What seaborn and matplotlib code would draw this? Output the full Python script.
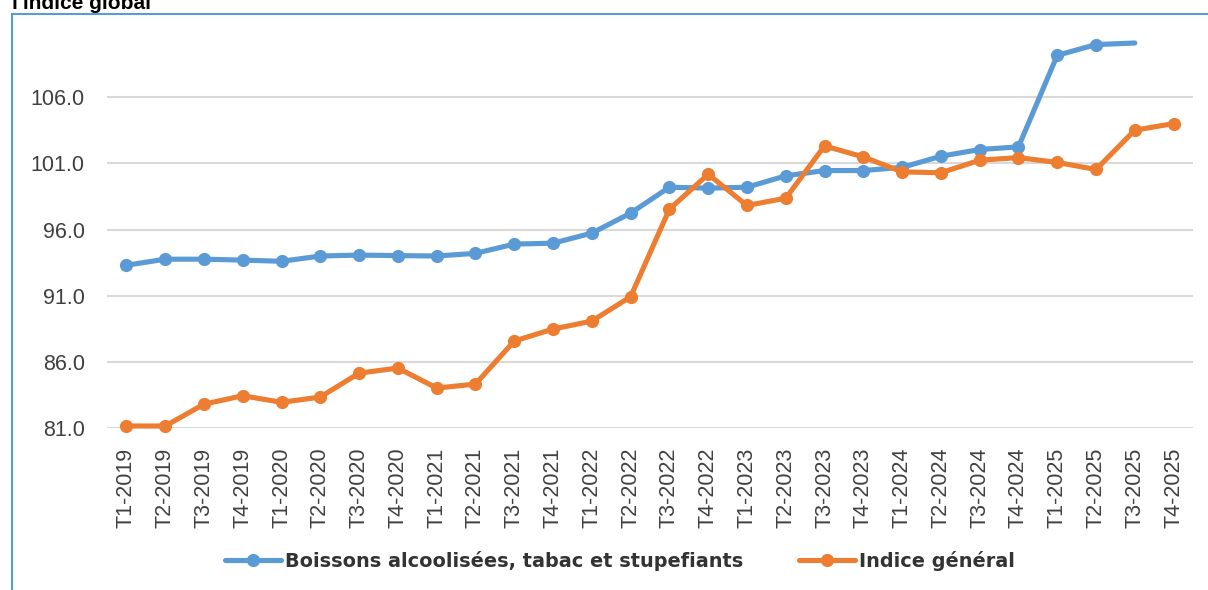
import numpy as np
import pandas as pd
import matplotlib
matplotlib.use("Agg")
import matplotlib.pyplot as plt
import seaborn as sns
from matplotlib.patches import Rectangle

periods = [f"T{q}-{y}" for y in range(2019, 2026) for q in range(1, 5)]

boissons = [93.3, 93.76, 93.76, 93.69, 93.6, 94.0, 94.07, 94.03, 94.0, 94.2,
            94.9, 94.97, 95.73, 97.24, 99.2, 99.13, 99.2, 100.06, 100.46, 100.46,
            100.7, 101.54, 102.05, 102.25, 109.17, 109.98, 110.1]
indice = [81.15, 81.15, 82.8, 83.44, 82.94, 83.34, 85.15, 85.53, 84.02, 84.32,
          87.57, 88.48, 89.08, 90.92, 97.54, 100.18, 97.82, 98.37, 102.32, 101.49,
          100.36, 100.29, 101.24, 101.44, 101.07, 100.54, 103.51, 104.01]

yticks = [81.0, 86.0, 91.0, 96.0, 101.0, 106.0]

label_b = "Boissons alcoolisées, tabac et stupefiants"
label_i = "Indice général"
blue = "#5B9BD5"
orange = "#ED7D31"

sns.set_theme(style="white")
plt.rcParams['font.family'] = ['Liberation Sans', 'DejaVu Sans']

fig = plt.figure(figsize=(12.08, 5.9), dpi=100)
ax = fig.add_axes([107/1208, 1-428/590, (1193-107)/1208, (428-43)/590])

df_b = pd.DataFrame({"x": np.arange(len(boissons)), "v": boissons})
df_i = pd.DataFrame({"x": np.arange(len(indice)), "v": indice})

sns.lineplot(data=df_b, x="x", y="v", ax=ax, color=blue, lw=3.7, marker="o",
             markersize=9.5, markeredgewidth=0, markevery=slice(0, len(boissons)-1),
             label=label_b, clip_on=False, sort=False)
sns.lineplot(data=df_i, x="x", y="v", ax=ax, color=orange, lw=3.7, marker="o",
             markersize=9.5, markeredgewidth=0, label=label_i, clip_on=False, sort=False)

ax.set_xlim(-0.5, len(periods) - 0.5)
ax.set_ylim(81.0, 110.1)
ax.set_yticks(yticks)
ax.set_yticklabels([f"{t:.1f}" for t in yticks], fontsize=15.5, color="#404040")
ax.set_xticks(np.arange(len(periods)))
ax.set_xticklabels(periods, rotation=90, fontsize=15.5, color="#404040")
ax.tick_params(axis="y", length=0, pad=16)
ax.tick_params(axis="x", length=0, pad=14)
ax.set_xlabel("")
ax.set_ylabel("")
ax.grid(axis="y", color="#D9D9D9", lw=1.5)
ax.set_axisbelow(True)
for s in ax.spines.values():
    s.set_visible(False)

leg = ax.get_legend()
handles, labels = ax.get_legend_handles_labels()
leg.remove()
fig.legend(handles, labels, loc="center", bbox_to_anchor=(0.513, 1-561/590), ncol=2,
           frameon=False, prop={"family": "DejaVu Sans", "weight": "bold", "size": 13.9},
           handlelength=2.9, columnspacing=2.9, handletextpad=0.2, labelcolor="#333333")

fig.patches.append(Rectangle((12/1208, -0.1), 1.1, 1 - 14/590 + 0.1, transform=fig.transFigure,
                             fill=False, edgecolor="#5B9BD5", lw=1.5))
fig.text(12/1208, 1-9/590, "l'indice global", fontsize=15, fontweight="bold",
         ha="left", va="baseline", color="black")

fig.savefig("out.png", dpi=100)
